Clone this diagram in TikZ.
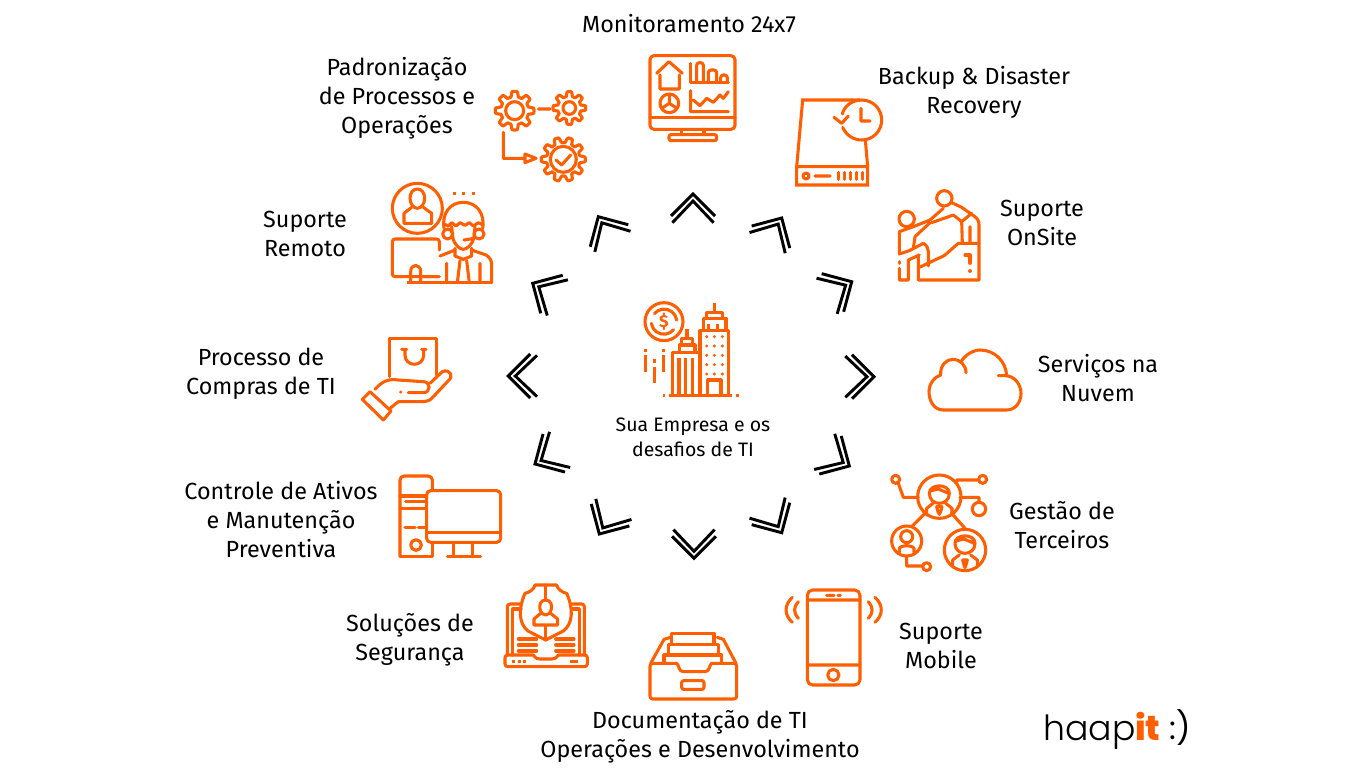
\documentclass[tikz,border=0pt]{standalone}
\usepackage{fontspec}
\setmainfont{Fira Sans}
\newfontfamily\logolight{Poppins Light}
\newfontfamily\logoreg{Poppins}
\newfontfamily\logobold{Poppins ExtraBold}
\definecolor{hb}{HTML}{FF5F00}
\tikzset{
 ic/.style={draw=hb,line width=2.3pt,line join=round,line cap=round},
 chv/.style={draw=black,line width=2.2pt,line join=miter,line cap=butt},
 lbl/.style={align=center,text=black,font=\fontsize{17.5}{21.75}\selectfont,inner sep=0pt},
 lbs/.style={align=center,text=black,font=\fontsize{14.6}{18.75}\selectfont,inner sep=0pt},
 z/.style n args={2}{shift={(#1,#2)},scale=1/3}
}
\newcommand{\chev}[3]{\draw[chv,shift={(#1,#2)},rotate=-#3] (-22,22)--(0,0)--(22,22) (-20.6,28.7)--(0,7)--(20.6,28.7);}
\newcommand{\gearic}[5]{\draw[ic] plot[domain=0:360,samples=145,variable=\t] ({#1+(#2+#3*min(1,max(-1,2.2*cos(#4*\t+#5))))*cos(\t)},{#1*0+(#2+#3*min(1,max(-1,2.2*cos(#4*\t+#5))))*sin(\t)});}
\begin{document}
\begin{tikzpicture}[x=0.75pt,y=-0.75pt]
\useasboundingbox (0,0) rectangle (1366,768);
\fill[white] (0,0) rectangle (1366,768);
% labels
\node[lbl] (monit) at (689,24) {Monitoramento 24x7};
\node[lbl] (padr) at (397,98.5) {Padronização\\de Processos e\\Operações};
\node[lbl] (back) at (974,92.5) {Backup \& Disaster\\Recovery};
\node[lbl] (onsite) at (1042,222.5) {Suporte\\OnSite};
\node[lbl] (remoto) at (305,233.5) {Suporte\\Remoto};
\node[lbl] (nuvem) at (1098,378.5) {Serviços na\\Nuvem};
\node[lbl] (compras) at (261,373.5) {Processo de\\Compras de TI};
\node[lbl] (terc) at (1062,525.5) {Gestão de\\Terceiros};
\node[lbl] (ativos) at (281,520) {Controle de Ativos\\e Manutenção\\Preventiva};
\node[lbl] (seg) at (410,639.5) {Soluções de\\Segurança};
\node[lbl] (mobile) at (941,645.5) {Suporte\\Mobile};
\node[lbl] (doc) at (700,737) {Documentação de TI\\Operações e Desenvolvimento};
\node[lbs] (empresa) at (693,437) {Sua Empresa e os\\desafios de TI};
% logo
\node[anchor=base west,inner sep=0pt,text=black,font=\logolight\fontsize{26}{26}\selectfont] (logoa) at (1043,740) {haap};
\node[anchor=base west,inner sep=0pt,text=hb,font=\logobold\fontsize{26}{26}\selectfont] (logob) at (1135,740) {it};
\node[anchor=base west,inner sep=0pt,text=black,font=\logoreg\fontsize{24}{24}\selectfont] (logoc) at (1169,739) {:)};
% chevrons
\chev{693}{194}{0}\chev{781.7}{218}{30}\chev{851.7}{281.7}{60}\chev{874}{376.7}{90}
\chev{849.3}{466}{120}\chev{781.7}{532.7}{150}\chev{694}{558.3}{180}\chev{599.3}{534}{210}
\chev{535}{464}{240}\chev{508.3}{376}{270}\chev{532.7}{283.3}{300}\chev{598.3}{216.7}{330}
% monitor + server + gears
\begin{scope}[z={480}{40}]
\draw[ic,rounded corners=3pt] (510,47) rectangle (765,268);
\draw[ic] (510,232)--(765,232) (605,268)--(605,284) (672,268)--(672,284);
\draw[ic,rounded corners=1.5pt] (567,284) rectangle (710,302);
\draw[ic] (530,100)--(567,65)--(607,100) (540,105)--(540,147)--(598,147)--(598,105);
\draw[ic] (632,70)--(632,128)--(745,128);
\draw[ic,rounded corners=2pt] (650,128)--(650,68)--(670,68)--(670,128) (685,128)--(685,90)--(710,90)--(710,128) (722,128)--(722,105)--(742,105)--(742,128);
\draw[ic] (568,190) circle (28) (568,190)--(568,165) (568,190)--(545,205) (568,190)--(591,205);
\draw[ic] (632,152)--(632,215)--(745,215) (640,180)--(660,197)--(680,175)--(700,187)--(720,165)--(730,175)--(745,155);
% server
\draw[ic,line cap=butt,line join=miter] (1140,180)--(968,180)--(950,380)--(950,435)--(1163,435)--(1163,380)--(1156,300) (950,380)--(1163,380);
\draw[ic] (1088,262) .. controls (1098,285) and (1120,300) .. (1145,300) .. controls (1180,300) and (1205,272) .. (1205,240) .. controls (1205,208) and (1180,180) .. (1145,180) .. controls (1115,180) and (1092,200) .. (1087,222);
\draw[ic] (1062,232)--(1085,250)--(1105,228) (1143,205)--(1143,243)--(1170,243);
\draw[ic] (978,408) circle (9) (1005,408)--(1050,408);
\foreach \xx in {1075,1094,1112,1130,1147} {\draw[ic] (\xx,397)--(\xx,418);}
% gears
\begin{scope}[shift={(104,212)}]\gearic{0}{50}{8}{8}{0}\draw[ic] (0,0) circle (27);\end{scope}
\begin{scope}[shift={(268,204)}]\gearic{0}{42}{7}{8}{0}\draw[ic] (0,0) circle (19);\end{scope}
\begin{scope}[shift={(250,358)}]\gearic{0}{58}{8}{10}{0}\draw[ic] (0,0) circle (39) (-22,2)--(-5,17)--(22,-13);\end{scope}
\draw[ic] (175,207)--(210,207) (70,277)--(70,355)--(135,355) (135,342)--(135,368)--(168,355)--cycle;
\end{scope}
% centre + remote
\begin{scope}[z={380}{170}]
\draw[ic] (852,455) circle (57);
\draw[ic] (890,450) arc (-8:-140:38) (814,460) arc (172:40:38);
\node[text=hb,inner sep=0pt,font=\bfseries\fontsize{13}{13}\selectfont] (dollar) at (852,456) {\$};
\draw[ic,line cap=butt] (960,675)--(960,482)--(1045,482)--(1045,675) (970,482)--(970,445)--(1038,445)--(1038,482) (980,445)--(980,428)--(1028,428)--(1028,445) (1003,398)--(1003,428);
\draw[ic,line cap=butt] (985,462)--(985,482) (1012,462)--(1012,482) (983,675)--(983,630)--(1023,630)--(1023,675);
\foreach \yy in {500,528,556,584,612} {\foreach \xx in {980,1003,1027} {\fill[hb] (\xx,\yy) circle (5);}}
\draw[ic,line cap=butt] (878,675)--(878,548)--(960,548) (898,548)--(898,525)--(945,525)--(945,548) (905,525)--(905,505)--(938,505)--(938,525) (921,478)--(921,505);
\draw[ic,line cap=butt] (897,565)--(897,675) (916,565)--(916,675) (937,565)--(937,675);
\draw[ic,line cap=butt] (868,677)--(1055,677) (849,677)--(856,677) (1068,677)--(1076,677);
\draw[ic,line cap=butt] (797,536)--(797,546) (797,556)--(797,606) (824,568)--(824,578) (824,590)--(824,638) (851,536)--(851,546) (851,556)--(851,606);
% remote
\draw[ic] (112,115) circle (75);
\draw[ic] (112,57) .. controls (98,57) and (90,70) .. (90,85) .. controls (90,100) and (100,115) .. (112,115) .. controls (124,115) and (134,100) .. (134,85) .. controls (134,70) and (126,57) .. (112,57);
\draw[ic] (95,112)--(72,130)--(72,160)--(155,160)--(155,130)--(130,112);
\draw[ic,rounded corners=2pt] (178,320)--(37,320)--(37,207)--(178,207)--(178,240);
\draw[ic] (92,335)--(92,305) .. controls (92,280) and (122,280) .. (122,305)--(122,335) (122,320)--(175,320);
\draw[ic,line cap=butt] (80,338)--(337,338);
\draw[ic] (192,175) .. controls (185,130) and (210,97) .. (250,97) .. controls (290,97) and (315,130) .. (308,175);
\draw[ic] (192,162)--(205,168)--(215,158)--(228,168)--(240,158)--(255,166)--(268,158)--(280,168)--(295,158)--(308,164);
\draw[ic] (203,192) circle (15) (297,192) circle (15);
\draw[ic] (215,170)--(218,200) .. controls (222,225) and (240,238) .. (250,238) .. controls (260,238) and (278,225) .. (282,200)--(285,170) (252,210)--(282,205);
\draw[ic] (180,258)--(225,240) (275,240)--(318,255) .. controls (330,262) and (335,272) .. (335,285)--(335,338);
\draw[ic] (225,235)--(225,258)--(250,268)--(275,258)--(275,235);
\draw[ic] (240,272)--(232,338) (260,272)--(268,338) (200,280)--(200,338) (300,280)--(300,338);
\draw[ic,line cap=butt] (218,70)--(228,70) (247,70)--(256,70) (276,70)--(285,70);
\end{scope}
% hand + bag
\begin{scope}[z={355}{330}]
\draw[ic] (103,140)--(103,25)--(245,25)--(245,135);
\draw[ic] (140,58)--(155,58) (200,58)--(213,58) (150,58)--(150,75) .. controls (150,112) and (206,112) .. (206,75)--(206,58);
\draw[ic] (60,178) .. controls (80,155) and (100,145) .. (130,150)--(205,155) .. controls (228,155) and (228,188) .. (205,188)--(160,188);
\fill[hb] (137,186) circle (5);
\draw[ic] (225,160)--(262,125) .. controls (285,115) and (297,140) .. (280,152)--(235,200) .. controls (225,212) and (215,215) .. (205,215)--(130,215)--(105,235);
\draw[ic] (22,208)--(45,185)--(108,243)--(85,270)--cycle;
\end{scope}
% cloud + onsite
\begin{scope}[z={880}{180}]
\draw[ic] (190,690) .. controls (160,690) and (147,660) .. (147,635) .. controls (147,610) and (165,590) .. (182,585) .. controls (180,555) and (200,538) .. (218,538) .. controls (240,538) and (258,555) .. (258,578);
\draw[ic] (243,545) .. controls (255,525) and (280,510) .. (300,510) .. controls (345,510) and (378,545) .. (380,587);
\draw[ic] (355,587)--(375,587) .. controls (405,587) and (423,615) .. (423,640) .. controls (423,668) and (405,690) .. (380,690)--(190,690);
% onsite
\draw[ic] (193,55) circle (23) (80,117) circle (23);
\draw[ic] (215,68)--(245,82)--(282,108) .. controls (292,115) and (297,122) .. (297,135)--(297,190);
\draw[ic] (190,85)--(150,120)--(100,140)--(58,155)--(58,222)--(88,212)--(130,190) .. controls (140,195) and (145,205) .. (145,215)--(145,258);
\draw[ic] (155,128)--(220,105)--(245,125)--(247,190) (270,140)--(270,190) (245,125)--(275,100);
\draw[ic] (150,128)--(105,170)--(100,205);
\draw[ic] (118,225)--(85,240)--(85,300)--(58,300)--(58,265) (115,225)--(115,300);
\draw[ic] (58,245)--(58,250);
\draw[ic] (115,300)--(297,300)--(297,190)--(235,190) .. controls (210,210) and (195,230) .. (175,235)--(118,262);
\draw[ic] (255,225)--(270,225)--(270,250) (270,272)--(270,274);
\end{scope}
% terceiros
\begin{scope}[z={880}{465}]
\draw[ic] (178,95) circle (65) (80,228) circle (45) (255,255) circle (62);
\draw[ic] (47,43) circle (12) (308,43) circle (12) (297,132) circle (20) (140,305) circle (12);
\draw[ic] (55,55)--(70,97)--(115,97) (230,55)--(230,45)--(295,45) (240,97)--(297,97)--(297,112) (80,273)--(80,303)--(127,303) (135,145)--(95,185) (215,145)--(255,190);
\draw[ic] (148,85) .. controls (148,55) and (208,55) .. (208,85) .. controls (208,125) and (148,125) .. (148,85) (150,78)--(175,72)--(206,85);
\draw[ic] (140,150)--(140,130)--(160,114) (216,150)--(216,130)--(196,114) (170,125)--(186,125)--(182,140)--(178,148)--(174,140)--cycle;
\draw[ic] (80,215) circle (18) (58,262)--(58,250) .. controls (62,240) and (98,240) .. (102,250)--(102,262);
\draw[ic] (225,235) .. controls (225,205) and (285,205) .. (285,235) .. controls (285,275) and (225,275) .. (225,235) (227,228)--(252,222)--(283,235);
\draw[ic] (218,305)--(218,285)--(238,270) (292,305)--(292,285)--(272,270) (248,285)--(262,285)--(258,300)--(255,308)--(252,300)--cycle;
\end{scope}
% computer + laptop
\begin{scope}[z={390}{465}]
\draw[ic,rounded corners=3pt] (127,75)--(127,33)--(30,33)--(30,275);
\draw[ic,line cap=butt] (30,275)--(128,275)--(128,235);
\draw[ic] (30,93)--(108,93) (47,110)--(108,110) (30,130)--(108,130) (45,187)--(75,187) (85,187)--(105,187);
\draw[ic] (78,240) circle (16);
\draw[ic,rounded corners=3pt] (110,77) rectangle (332,232);
\draw[ic] (110,203)--(332,203) (190,232)--(190,275) (248,232)--(248,275) (172,275)--(272,275);
% laptop
\draw[ic,rounded corners=2pt] (352,570)--(352,417)--(395,417) (545,417)--(583,417)--(583,570);
\draw[ic] (368,570)--(368,432)--(393,432) (545,432)--(568,432)--(568,570);
\draw[ic,rounded corners=2pt] (430,570)--(345,570)--(345,605)--(592,605)--(592,570)--(505,570);
\draw[ic] (430,570) .. controls (438,582) and (445,582) .. (450,582)--(485,582) .. controls (492,582) and (498,580) .. (505,570);
\draw[ic,line cap=butt] (367,590)--(375,590) (384,590)--(392,590) (400,590)--(407,590) (540,590)--(565,590);
\draw[ic] (435,360)--(500,360) .. controls (503,372) and (515,382) .. (530,385) .. controls (550,430) and (550,475) .. (520,498)--(467,525)--(414,498) .. controls (385,475) and (385,430) .. (405,385) .. controls (420,382) and (432,372) .. (435,360);
\draw[ic] (467,360)--(467,405) (467,482)--(467,525);
\draw[ic] (467,405) .. controls (452,405) and (447,420) .. (450,432) .. controls (453,445) and (460,450) .. (467,450) .. controls (474,450) and (481,445) .. (484,432) .. controls (487,420) and (482,405) .. (467,405);
\draw[ic] (452,445)--(432,462)--(432,480)--(503,480)--(503,462)--(482,445);
\draw[ic] (385,522)--(440,522) (385,540)--(440,540) (385,558)--(440,558) (497,522)--(552,522) (497,540)--(552,540) (497,558)--(552,558);
\end{scope}
% drawer + phone
\begin{scope}[z={640}{580}]
\draw[ic,rounded corners=2pt] (110,250)--(30,250)--(30,357)--(290,357)--(290,250)--(215,250);
\draw[ic] (110,250) .. controls (118,255) and (115,275) .. (130,275)--(195,275) .. controls (210,275) and (207,255) .. (215,250);
\draw[ic] (32,250)--(72,178)--(92,172) (288,250)--(250,178)--(232,172);
\draw[ic] (72,250)--(72,225)--(245,225)--(245,250) (85,225)--(85,193)--(235,193)--(235,225) (95,193)--(95,160)--(222,160)--(222,193);
\draw[ic,rounded corners=1.5pt] (125,302) rectangle (192,328);
\draw[ic,rounded corners=4pt] (502,30) rectangle (660,315);
\draw[ic] (502,60)--(660,60) (502,255)--(660,255) (560,46)--(582,46) (594,46)--(601,46) (580,285) circle (17);
\draw[ic] (475,65) .. controls (460,80) and (460,100) .. (475,115) (457,52) .. controls (432,75) and (432,105) .. (457,127);
\draw[ic] (685,65) .. controls (700,80) and (700,100) .. (685,115) (705,52) .. controls (730,75) and (730,105) .. (705,127);
\end{scope}
\end{tikzpicture}
\end{document}
